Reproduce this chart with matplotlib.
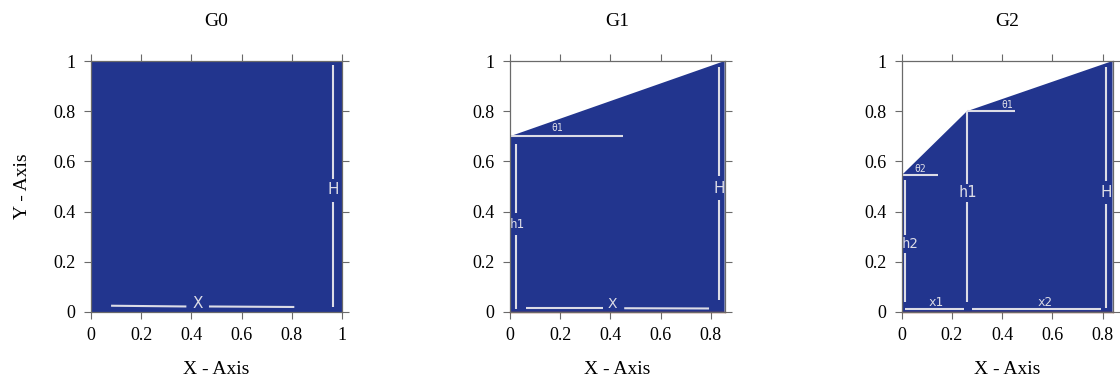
import matplotlib
matplotlib.use("Agg")
import matplotlib.pyplot as plt

# outline of each cross-section (x, y), closed along the bottom
g0_x = [0, 0, 1, 1]
g0_y = [0, 1, 1, 0]
g1_x = [0, 0, 0.855, 0.855]
g1_y = [0, 0.70, 1.00, 0]
g2_x = [0, 0, 0.26, 0.84, 0.84]
g2_y = [0, 0.545, 0.80, 1.00, 0]

titles = ["G0", "G1", "G2"]
xlims = [1.0, 0.855, 0.84]
xticks = [[0, 0.2, 0.4, 0.6, 0.8, 1], [0, 0.2, 0.4, 0.6, 0.8], [0, 0.2, 0.4, 0.6, 0.8]]
yticks = [0, 0.2, 0.4, 0.6, 0.8, 1]

# dimension markers: (x0, y0, x1, y1) segments, then (label, x, y, size)
g0_segs = [(0.965, 0.02, 0.965, 0.44), (0.965, 0.53, 0.965, 0.985),
           (0.08, 0.025, 0.38, 0.022), (0.47, 0.022, 0.81, 0.020)]
g0_text = [("H", 0.965, 0.49, 11), ("X", 0.425, 0.032, 11)]

g1_segs = [(0.0, 0.70, 0.452, 0.70),
           (0.025, 0.01, 0.025, 0.307), (0.025, 0.393, 0.025, 0.668),
           (0.833, 0.048, 0.833, 0.445), (0.833, 0.54, 0.833, 0.977),
           (0.064, 0.016, 0.37, 0.016), (0.455, 0.015, 0.793, 0.014)]
g1_text = [("θ1", 0.19, 0.733, 7), ("h1", 0.03, 0.348, 9),
           ("H", 0.833, 0.494, 11), ("X", 0.409, 0.033, 10)]

g2_segs = [(0.0, 0.545, 0.146, 0.545), (0.262, 0.80, 0.45, 0.80),
           (0.013, 0.041, 0.013, 0.234), (0.013, 0.307, 0.013, 0.526),
           (0.262, 0.041, 0.262, 0.44), (0.262, 0.51, 0.262, 0.80),
           (0.815, 0.015, 0.815, 0.43), (0.815, 0.52, 0.815, 0.977),
           (0.012, 0.011, 0.249, 0.011), (0.281, 0.011, 0.795, 0.011)]
g2_text = [("θ2", 0.075, 0.568, 7), ("θ1", 0.42, 0.826, 7),
           ("h2", 0.035, 0.272, 10), ("h1", 0.262, 0.475, 11),
           ("H", 0.815, 0.475, 11), ("x1", 0.136, 0.038, 9), ("x2", 0.57, 0.038, 9)]

shapes = [(g0_x, g0_y), (g1_x, g1_y), (g2_x, g2_y)]
segments = [g0_segs, g1_segs, g2_segs]
labels = [g0_text, g1_text, g2_text]

FILL = "#22358e"
MARK = "#dcdce6"
BASE = "#b4482e"
FRAME = "#6a6a6a"
SERIF = "Liberation Serif"

fig = plt.figure(figsize=(11.2, 3.76), dpi=100)
lefts = [91, 510, 901.7]
unit = 251.0  # pixels per data unit, same in x and y
W, H = 1120.0, 376.0

for i in range(3):
    xs, ys = shapes[i]
    ax = fig.add_axes([lefts[i] / W, 64 / H, xlims[i] * unit / W, unit / H])
    ax.fill(xs, ys, color=FILL, lw=0, zorder=1)
    if i > 0:
        ax.plot([0, xlims[i]], [0, 0], color=BASE, lw=1.0, zorder=2, clip_on=False)
    for x0, y0, x1, y1 in segments[i]:
        ax.plot([x0, x1], [y0, y1], color=MARK, lw=1.5, zorder=3, solid_capstyle="butt")
    for txt, x, y, size in labels[i]:
        # full-height dimensions use a plain sans face, the rest a mono face
        fam = "DejaVu Sans" if txt in ("H", "X") else "DejaVu Sans Mono"
        ax.text(x, y, txt, color=MARK, fontsize=size, family=fam,
                ha="center", va="center", zorder=4)

    ax.set_xlim(0, xlims[i])
    ax.set_ylim(0, 1)
    ax.set_xticks(xticks[i])
    ax.set_yticks(yticks)
    ax.set_xticklabels([f"{t:g}" for t in xticks[i]], family=SERIF, fontsize=13)
    ax.set_yticklabels([f"{t:g}" for t in yticks], family=SERIF, fontsize=13)
    ax.tick_params(direction="out", length=5, width=0.8, color=FRAME,
                   top=True, right=True, pad=6)
    for sp in ax.spines.values():
        sp.set_color(FRAME)
        sp.set_linewidth(0.9)
        sp.set_zorder(5)
    ax.set_title(titles[i], family=SERIF, fontsize=14, pad=25)
    ax.set_xlabel("X - Axis", family=SERIF, fontsize=14, labelpad=12)
    if i == 0:
        ax.set_ylabel("Y - Axis", family=SERIF, fontsize=14, labelpad=16)

fig.savefig("out.png", dpi=100)
